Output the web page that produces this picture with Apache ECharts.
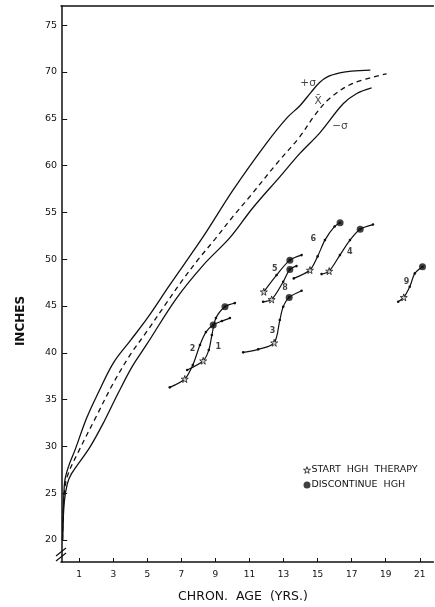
<!DOCTYPE html>
<html><head><meta charset="utf-8">
<script src="https://cdn.jsdelivr.net/npm/echarts@6/dist/echarts.min.js"></script>
<style>html,body{margin:0;padding:0;background:#fff}#c{width:435px;height:607px}</style>
</head><body><div id="c"></div>
<script>
// ---- data (age in years, height in inches) ----
const xTicks = [1,3,5,7,9,11,13,15,17,19,21];
const yTicks = [20,25,30,35,40,45,50,55,60,65,70,75];
const plusSigma = [[0.02,20],[0.08,24],[0.16,26.4],[0.4,28],[0.75,29.6],[1.43,33.0],[2.11,35.7],[3.0,38.9],[4,41.3],[5,43.7],[6.3,47.2],[8.28,52.4],[10.04,57.4],[12,62.4],[13.2,65.1],[13.96,66.4],[14.6,67.8],[15.13,68.9],[15.6,69.5],[16.3,69.9],[17,70.1],[18.1,70.2]];
const meanLine = [[0.02,20],[0.1,24.5],[0.3,26.8],[1,29.6],[2,33.2],[3,36.75],[4,39.8],[5,42.35],[6,45.0],[7,47.6],[8,50.0],[9,52.2],[10,54.5],[11.02,56.7],[12.59,60.2],[13.96,63.1],[14.84,65.4],[15.72,67.2],[17.09,68.8],[19.05,69.8]];
const minusSigma = [[0.02,20],[0.12,24],[0.3,26],[0.55,27.1],[1.62,29.9],[2.5,32.8],[3.29,35.7],[4.1,38.5],[5,41],[6.7,45.8],[8.3,49.4],[9.85,52.3],[11.2,55.5],[12.78,58.8],[13.96,61.3],[15.13,63.5],[16.5,66.6],[17.3,67.7],[18.17,68.3]];
const patient1 = [[7.34,38.16],[8.28,39.15],[8.61,40.29],[8.79,41.89],[9.03,43.71],[9.56,44.92],[10.14,45.31]];
const patient2 = [[6.32,36.31],[7.20,37.20],[7.67,38.69],[8.09,40.83],[8.44,42.21],[8.87,42.96],[9.38,43.39],[9.85,43.71]];
const patient3 = [[10.63,40.05],[11.51,40.37],[12.45,41.07],[12.78,43.5],[12.98,44.92],[13.33,45.92],[14.06,46.63]];
const patient4 = [[15.23,48.41],[15.68,48.73],[16.31,50.44],[16.9,52.04],[17.5,53.2],[18.25,53.7]];
const patient5 = [[11.84,46.52],[12.59,48.3],[13.37,49.9],[14.06,50.44]];
const patient6 = [[13.6,47.95],[14.55,48.84],[15.0,50.3],[15.43,52.04],[16.0,53.5],[16.32,53.9]];
const patient8 = [[11.8,45.45],[12.3,45.7],[12.98,47.59],[13.37,48.91],[13.76,49.26]];
const patient9 = [[19.73,45.45],[20.06,45.92],[20.41,47.05],[20.71,48.48],[21.16,49.19]];
const startPoints = [[8.28,39.15],[7.20,37.20],[12.45,41.07],[15.68,48.73],[11.84,46.52],[14.55,48.84],[12.3,45.7],[20.06,45.92]];
const stopPoints = [[9.56,44.92],[8.87,42.96],[13.33,45.92],[17.5,53.2],[13.37,49.9],[16.32,53.9],[13.37,48.91],[21.16,49.19]];
const curveLabels = [[14.44,68.77,'+σ'],[15.03,66.92,'X\u0304'],[16.31,64.21,'\u2212σ']];
const patientLabels = [[9.16,40.65,'1'],[7.65,40.4,'2'],[12.35,42.35,'3'],[16.89,50.79,'4'],[12.49,48.91,'5'],[14.75,52.2,'6'],[13.08,46.88,'8'],[20.22,47.59,'9']];

const FONT = 'DejaVu Sans';
const STAR = 'path://M50,0 L61,35 L98,35 L68,57 L79,91 L50,70 L21,91 L32,57 L2,35 L39,35 Z';
const chart = echarts.init(document.getElementById('c'), null, {renderer:'canvas'});
function curve(name, data, dashed){
  return {type:'line', name, data, smooth:0.35, showSymbol:false, symbol:'none', silent:true,
    lineStyle:{color:'#111', width:1.3, type: dashed ? [5,4] : 'solid'}, z:2};
}
function patient(name, data){
  return {type:'line', name, data, smooth:0.3, symbol:'circle', symbolSize:2.6, silent:true,
    itemStyle:{color:'#111'}, lineStyle:{color:'#111', width:1.2}, z:3};
}
function textSeries(name, data, size, weight){
  return {type:'scatter', name, data, symbol:'circle', symbolSize:1, silent:true, z:6,
    itemStyle:{color:'rgba(0,0,0,0)'},
    label:{show:true, position:'inside', formatter:p=>p.value[2], fontSize:size, fontWeight:weight,
      color:'#111', fontFamily:FONT}};
}
const option = {
  animation:false,
  textStyle:{fontFamily:FONT},
  grid:{left:61, right:1.6, top:6, bottom:45, containLabel:false},
  legend:{
    orient:'vertical', left:298, top:460, itemGap:5, itemWidth:7, itemHeight:7,
    data:[
      {name:'START HGH THERAPY', itemStyle:{color:'#fff', borderColor:'#111', borderWidth:1}},
      {name:'DISCONTINUE HGH', itemStyle:{color:'#111'}}
    ],
    formatter: n => n.replace(/ /g,'  '),
    textStyle:{fontFamily:FONT, fontSize:9.5, color:'#111', padding:[0,0,0,-4]}
  },
  xAxis:[{
    type:'value', min:-0.07, max:21.8,
    axisLine:{lineStyle:{color:'#111', width:1.5}},
    axisTick:{inside:true, length:4, customValues:xTicks, lineStyle:{color:'#111'}},
    axisLabel:{customValues:xTicks, fontSize:9, color:'#111', margin:8},
    splitLine:{show:false}
  },{
    type:'value', position:'top', min:-0.07, max:21.8,
    axisLine:{show:true, lineStyle:{color:'#111', width:1.5}},
    axisTick:{show:false}, axisLabel:{show:false}, splitLine:{show:false}
  }],
  yAxis:{
    type:'value', min:17.65, max:77.05,
    axisLine:{show:true, lineStyle:{color:'#111', width:1.5}},
    axisTick:{inside:true, length:5, customValues:yTicks, lineStyle:{color:'#111'}},
    axisLabel:{customValues:yTicks, fontSize:9.5, color:'#111', margin:4},
    splitLine:{show:false}
  },
  series:[
    curve('+sigma', plusSigma, false),
    curve('mean', meanLine, true),
    curve('-sigma', minusSigma, false),
    patient('1', patient1), patient('2', patient2), patient('3', patient3),
    patient('4', patient4), patient('5', patient5), patient('6', patient6),
    patient('8', patient8), patient('9', patient9),
    {type:'scatter', name:'START HGH THERAPY', data:startPoints, symbol:STAR, symbolSize:7,
     itemStyle:{color:'#fff', borderColor:'#111', borderWidth:1}, z:5, silent:true},
    {type:'scatter', name:'DISCONTINUE HGH', data:stopPoints, symbol:'circle', symbolSize:7,
     itemStyle:{color:'#111'}, z:5, silent:true},
    textSeries('curveLabels', curveLabels, 10.5, 'normal'),
    textSeries('patientLabels', patientLabels, 8, 'bold')
  ]
};
chart.setOption(option);
// axis titles and axis-break marks (decoration)
const b = chart.convertToPixel({xAxisIndex:0, yAxisIndex:0}, [-0.07, 18.6]);
chart.setOption({graphic:[
  {id:'ytitle', type:'text', x:21, y:321, rotation:Math.PI/2, style:{text:'INCHES', fontFamily:FONT, fontSize:12, fontWeight:'bold', fill:'#111', align:'center', verticalAlign:'middle'}},
  {id:'xtitle', type:'text', x:243, y:597, style:{text:'CHRON.  AGE  (YRS.)', fontFamily:FONT, fontSize:12.5, fill:'#111', align:'center', verticalAlign:'middle'}},
  {id:'brk1', type:'line', shape:{x1:b[0]-5, y1:b[1]+3, x2:b[0]+5, y2:b[1]-5}, style:{stroke:'#111', lineWidth:1.3}},
  {id:'brk2', type:'line', shape:{x1:b[0]-5, y1:b[1]+8, x2:b[0]+5, y2:b[1]}, style:{stroke:'#111', lineWidth:1.3}}
]});
</script></body></html>
